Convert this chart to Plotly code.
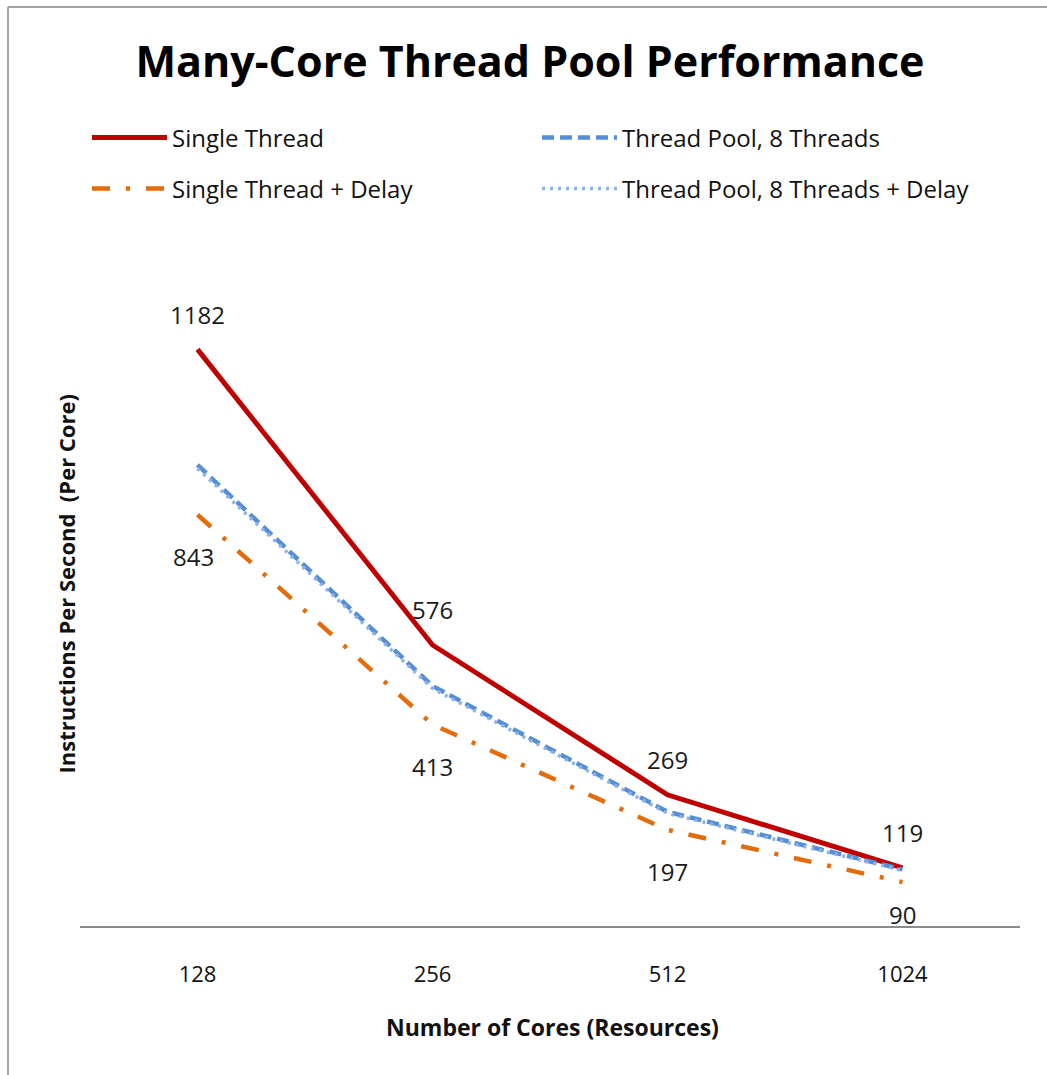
import plotly.graph_objects as go

# Cores on the x axis (categorical)
cores = ["128", "256", "512", "1024"]

# Instructions per second, per core
single_thread = [1182, 576, 269, 119]
single_thread_delay = [843, 413, 197, 90]
pool_8 = [945, 492, 234, 116]
pool_8_delay = [938, 487, 231, 114]

W, H = 1047, 1075
L, R, T, B = 80, 27, 243, 149
PW, PH = W - L - R, H - T - B

FONT = "Open Sans"

fig = go.Figure()

fig.add_trace(go.Scatter(
    x=cores, y=single_thread, mode="lines", name="Single Thread",
    line=dict(color="#C00000", width=5), legend="legend",
))
fig.add_trace(go.Scatter(
    x=cores, y=pool_8, mode="lines", name="Thread Pool, 8 Threads",
    line=dict(color="#558ED5", width=4.5, dash="12px,6px"), legend="legend2",
))
fig.add_trace(go.Scatter(
    x=cores, y=single_thread_delay, mode="lines", name="Single Thread + Delay",
    line=dict(color="#E46C0A", width=4.5, dash="18px,16px,4px,16px"), legend="legend3",
))
fig.add_trace(go.Scatter(
    x=cores, y=pool_8_delay, mode="lines", name="Thread Pool, 8 Threads + Delay",
    line=dict(color="#8DB4E2", width=3.5, dash="3px,5px"), legend="legend4",
))

# Value labels: above the single-thread line, below the delayed line.
# Positions use the category index on the x axis.
label_font = dict(family=FONT, size=24, color="#1a1a1a")
for i, v in enumerate(single_thread):
    fig.add_annotation(x=i, y=v, text=str(v), showarrow=False, yshift=35,
                       font=label_font)
delay_shift = [-42, -42, -42, -32]
delay_xshift = [-4, 0, 0, 0]
for i, (v, s, xs) in enumerate(zip(single_thread_delay, delay_shift, delay_xshift)):
    fig.add_annotation(x=i, y=v, text=str(v), showarrow=False, yshift=s, xshift=xs,
                       font=label_font)

# Axis titles
fig.add_annotation(xref="paper", yref="paper", x=0.5, y=0, yshift=-101, xshift=2,
                   text="<b>Number of Cores (Resources)</b>", showarrow=False,
                   yanchor="middle", font=dict(family=FONT, size=23, color="#111"))
fig.add_annotation(xref="paper", yref="paper", x=0, y=0.5, xshift=-15,
                   text="<b>Instructions Per Second  (Per Core)</b>", showarrow=False,
                   textangle=-90, xanchor="center", yanchor="middle",
                   font=dict(family=FONT, size=22, color="#111"))

# Chart frame (left and top edges)
def px_x(p):
    return (p - L) / PW

def px_y(p):
    return (H - B - p) / PH

frame = dict(color="#A6A6A6", width=2)
fig.add_shape(type="line", xref="paper", yref="paper",
              x0=px_x(8), x1=px_x(W + 5), y0=px_y(7), y1=px_y(7), line=frame)
fig.add_shape(type="line", xref="paper", yref="paper",
              x0=px_x(8), x1=px_x(8), y0=px_y(7), y1=px_y(H + 5), line=frame)

legend_font = dict(family=FONT, size=24, color="#111")
def leg(x, y):
    return dict(xref="container", yref="container", x=x / W, y=1 - y / H,
                xanchor="left", yanchor="middle", orientation="h",
                font=legend_font, itemwidth=75, bgcolor="rgba(0,0,0,0)",
                borderwidth=0)

fig.update_layout(
    width=W, height=H,
    margin=dict(l=L, r=R, t=T, b=B),
    paper_bgcolor="white", plot_bgcolor="white",
    title=dict(text="<b>Many-Core Thread Pool Performance</b>",
               xref="container", yref="container", x=530 / W, y=1 - 62 / H,
               xanchor="center", yanchor="middle",
               font=dict(family=FONT, size=43, color="black")),
    showlegend=True,
    legend=leg(87, 138),
    legend2=leg(537, 138),
    legend3=leg(87, 189),
    legend4=leg(537, 189),
    xaxis=dict(type="category", range=[-0.5, 3.5], showgrid=False, zeroline=False,
               showline=True, linecolor="#8C8C8C", linewidth=2, ticks="",
               ticklabelstandoff=28,
               tickfont=dict(family=FONT, size=22, color="#111")),
    yaxis=dict(range=[0, 1400], showgrid=False, zeroline=False, showline=False,
               showticklabels=False, ticks=""),
)

fig.write_html("out.html")
